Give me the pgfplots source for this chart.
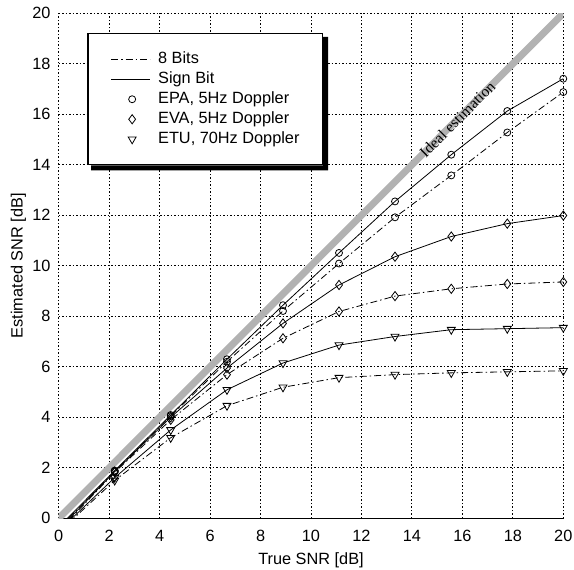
\documentclass[border=0pt]{standalone}
\usepackage{fontspec}
\setmainfont{Liberation Sans}
\newfontfamily\seriffont{Liberation Serif}
\usepackage{pgfplots}
\pgfplotsset{compat=1.18}
\definecolor{idealgray}{RGB}{178,178,178}
\tikzset{dashdot/.style={dash pattern=on 7bp off 3bp on 1.5bp off 3bp}}
\pgfplotsset{
  sline/.style={black, line width=0.8bp, solid, mark options={solid}},
  dline/.style={black, line width=0.8bp, dashdot, mark options={solid}},
  mo/.style={mark=o, mark size=3.5bp},
  md/.style={mark=diamond, mark size=4.6bp},
  mt/.style={mark=triangle, mark size=4.6bp, mark options={solid, rotate=180}},
  lineleg/.style={legend image code/.code={\path[draw=none,fill=none] (0bp,-2bp) rectangle (47bp,2bp); \draw[##1] (0bp,0bp) -- (39bp,0bp);}},
  markleg/.style={legend image code/.code={\path[draw=none,fill=none] (0bp,-2bp) rectangle (47bp,2bp); \draw[##1] plot coordinates {(21bp,0bp)};}},
}
\begin{document}
\begin{tikzpicture}[font=\fontsize{16.3bp}{19.5bp}\selectfont]
\useasboundingbox (-58.7bp,-51.7bp) rectangle (515.3bp,518.3bp);
\begin{axis}[
  at={(0,0)}, anchor=south west,
  scale only axis, width=504.6bp, height=505bp,
  xmin=0, xmax=20, ymin=0, ymax=20,
  xtick={0,2,...,20}, ytick={0,2,...,20},
  /pgf/number format/assume math mode=true,
  grid=major,
  major grid style={black, line width=1bp, dash pattern=on 1.5bp off 2bp},
  major tick length=0pt,
  axis x line*=bottom, axis y line*=left,
  x axis line style={-, line width=1bp, black},
  y axis line style={draw=none},
  xticklabel style={yshift=-8bp},
  yticklabel style={xshift=-4.7bp},
  xlabel={True SNR [dB]}, ylabel={Estimated SNR [dB]},
  every axis x label/.style={at={([yshift=-41.7bp]axis description cs:0.5,0)}, anchor=center},
  every axis y label/.style={at={([xshift=-40.4bp]axis description cs:0,0.5)}, anchor=center, rotate=90},
  legend cell align=left,
  legend style={
    name=leg,
    at={(0.0561,0.961)}, anchor=north west,
    draw=black, line width=1.5bp, fill=white,
    inner xsep=23bp, inner ysep=18bp,
    row sep=5bp,
    nodes={inner sep=0pt, text height=12bp, text depth=3bp},
  },
]
% legend images
\addlegendimage{dline, lineleg}
\addlegendentry{8 Bits}
\addlegendimage{sline, lineleg}
\addlegendentry{Sign Bit}
\addlegendimage{sline, mo, markleg}
\addlegendentry{EPA, 5Hz Doppler}
\addlegendimage{sline, md, markleg}
\addlegendentry{EVA, 5Hz Doppler}
\addlegendimage{sline, mt, markleg}
\addlegendentry{ETU, 70Hz Doppler}

% ideal estimation
\addplot[idealgray, line width=7bp, forget plot] coordinates {(0,0) (20,20)};
\node[font=\seriffont\fontsize{15.5bp}{17bp}\selectfont, rotate=45] at (axis cs:15.8,15.8) {Ideal estimation};

% EPA
\addplot[sline, mo, mark indices={1,2,3,4,5,6,7,8,9}, forget plot] coordinates {
(0,-0.35) (2.22,1.89) (4.44,4.09) (6.67,6.30) (8.89,8.44) (11.11,10.51) (13.33,12.55) (15.56,14.40) (17.78,16.13) (20,17.41)};
\addplot[dline, mo, mark indices={1,2,3,4,5,6,7,8,9}, forget plot] coordinates {
(0,-0.40) (2.22,1.87) (4.44,4.05) (6.67,6.20) (8.89,8.21) (11.11,10.09) (13.33,11.92) (15.56,13.58) (17.78,15.28) (20,16.88)};
% EVA
\addplot[sline, md, mark indices={1,2,3,4,5,6,7,8,9}, forget plot] coordinates {
(0,-0.45) (2.22,1.85) (4.44,4.00) (6.67,5.95) (8.89,7.72) (11.11,9.24) (13.33,10.36) (15.56,11.16) (17.78,11.67) (20,11.99)};
\addplot[dline, md, mark indices={1,2,3,4,5,6,7,8,9}, forget plot] coordinates {
(0,-0.50) (2.22,1.82) (4.44,3.90) (6.67,5.69) (8.89,7.13) (11.11,8.19) (13.33,8.80) (15.56,9.09) (17.78,9.28) (20,9.36)};
% ETU
\addplot[sline, mt, mark indices={1,2,3,4,5,6,7,8,9}, forget plot] coordinates {
(0,-0.50) (2.22,1.61) (4.44,3.50) (6.67,5.09) (8.89,6.15) (11.11,6.86) (13.33,7.20) (15.56,7.47) (17.78,7.51) (20,7.55)};
\addplot[dline, mt, mark indices={1,2,3,4,5,6,7,8,9}, forget plot] coordinates {
(0,-0.55) (2.22,1.50) (4.44,3.19) (6.67,4.46) (8.89,5.19) (11.11,5.57) (13.33,5.69) (15.56,5.76) (17.78,5.80) (20,5.84)};
\end{axis}
% legend shadow (right and bottom)
\fill[black] ([xshift=4bp]leg.south west) -- ([xshift=4bp,yshift=-5bp]leg.south west) -- ([xshift=5bp,yshift=-5bp]leg.south east) -- ([xshift=5bp,yshift=-4bp]leg.north east) -- ([yshift=-4bp]leg.north east) -- (leg.south east) -- cycle;
\end{tikzpicture}
\end{document}
